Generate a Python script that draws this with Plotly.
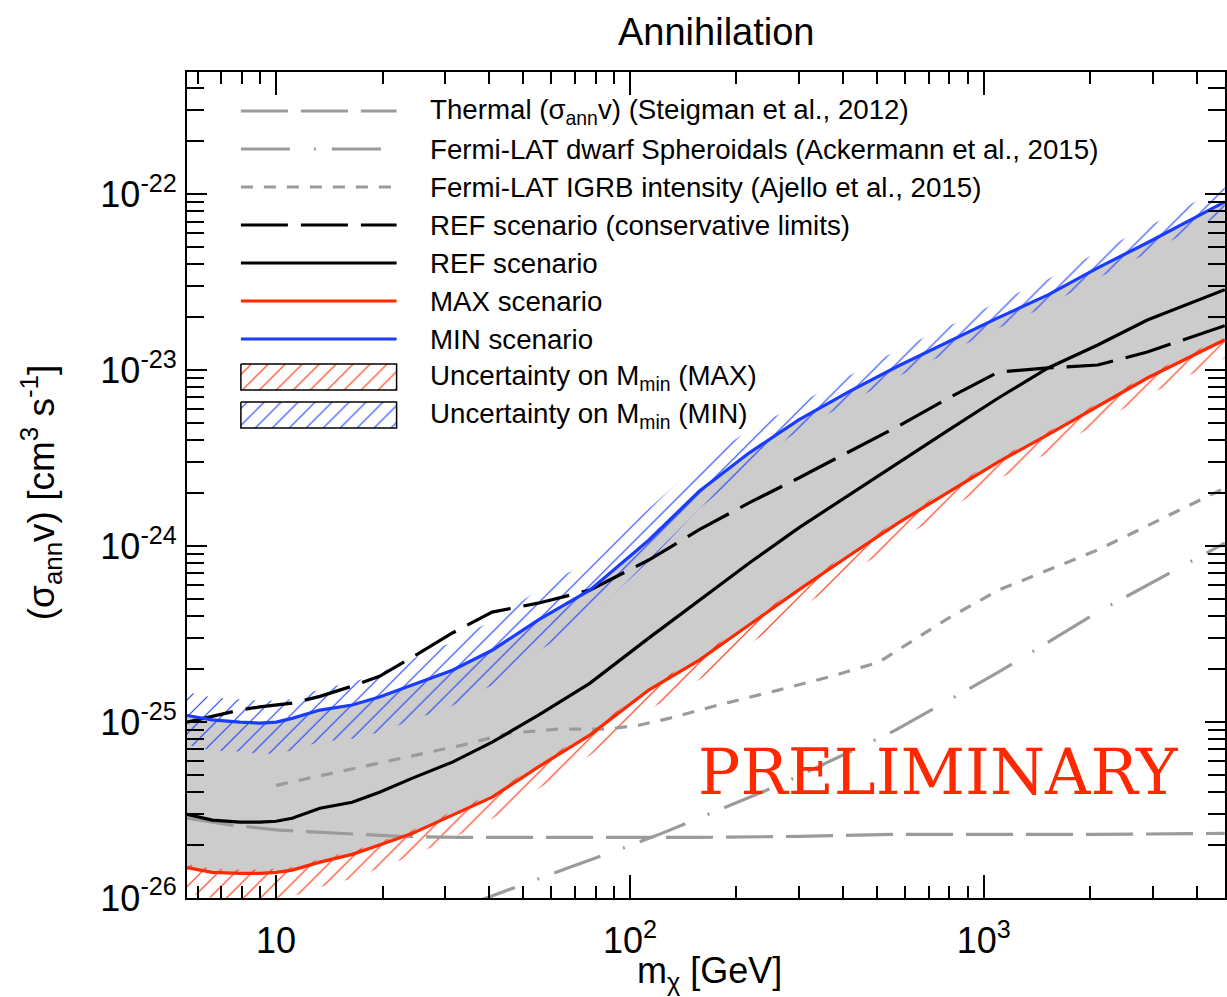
import numpy as np
import plotly.graph_objects as go

# ---------------------------------------------------------------- data
# Dark-matter mass grid [GeV] for the scenario curves
mass = [5.6, 6.6, 7.9, 9.0, 10, 11.1, 13.3, 16.4, 19.6, 24.3, 31.5, 40.8, 55,
        77, 113, 157, 217, 300, 415, 575, 795, 1100, 1520, 2100, 2900, 4800]

# MIN scenario limit and its M_min uncertainty band [cm^3 s^-1]
sv_min = [1.09e-25, 1.03e-25, 1.0e-25, 9.86e-26, 1.0e-25, 1.05e-25, 1.17e-25,
          1.25e-25, 1.39e-25, 1.62e-25, 1.97e-25, 2.56e-25, 3.80e-25, 5.62e-25,
          1.08e-24, 2.05e-24, 3.38e-24, 5.22e-24, 7.53e-24, 1.06e-23, 1.45e-23,
          1.99e-23, 2.68e-23, 3.82e-23, 5.30e-23, 9.06e-23]
sv_min_hi = [1.48e-25, 1.38e-25, 1.35e-25, 1.32e-25, 1.32e-25, 1.35e-25, 1.54e-25,
             1.68e-25, 1.91e-25, 2.29e-25, 2.85e-25, 3.79e-25, 5.62e-25, 8.32e-25,
             1.63e-24, 2.96e-24, 4.56e-24, 6.43e-24, 9.27e-24, 1.31e-23, 1.78e-23,
             2.45e-23, 3.30e-23, 4.70e-23, 6.52e-23, 1.11e-22]
sv_min_lo = [7.4e-26, 6.9e-26, 6.8e-26, 6.6e-26, 6.6e-26, 6.9e-26, 7.73e-26,
             8.05e-26, 8.75e-26, 1.02e-25, 1.24e-25, 1.62e-25, 2.51e-25, 3.98e-25,
             8.18e-25, 1.63e-24, 2.81e-24, 4.55e-24, 6.56e-24, 9.23e-24, 1.26e-23,
             1.73e-23, 2.34e-23, 3.33e-23, 4.62e-23, 7.89e-23]

# MAX scenario limit and its M_min uncertainty band
sv_max = [1.49e-26, 1.40e-26, 1.38e-26, 1.38e-26, 1.40e-26, 1.44e-26, 1.60e-26,
          1.77e-26, 2.00e-26, 2.33e-26, 2.96e-26, 3.74e-26, 5.55e-26, 8.43e-26,
          1.52e-25, 2.25e-25, 3.56e-25, 5.64e-25, 8.79e-25, 1.36e-24, 2.03e-24,
          3.01e-24, 4.30e-24, 6.27e-24, 9.03e-24, 1.49e-23]
sv_max_hi = [1.56e-26, 1.47e-26, 1.45e-26, 1.45e-26, 1.47e-26, 1.50e-26, 1.67e-26,
             1.85e-26, 2.09e-26, 2.44e-26, 3.10e-26, 3.92e-26, 5.81e-26, 8.83e-26,
             1.59e-25, 2.36e-25, 3.72e-25, 5.90e-25, 9.20e-25, 1.42e-24, 2.13e-24,
             3.15e-24, 4.50e-24, 6.56e-24, 9.46e-24, 1.56e-23]
sv_max_lo = [1.07e-26, 1.0e-26, 9.8e-27, 9.8e-27, 1.0e-26, 1.02e-26, 1.15e-26,
             1.29e-26, 1.48e-26, 1.74e-26, 2.19e-26, 2.82e-26, 4.17e-26, 6.46e-26,
             1.17e-25, 1.74e-25, 2.75e-25, 4.37e-25, 6.9e-25, 1.07e-24, 1.62e-24,
             2.40e-24, 3.39e-24, 5.0e-24, 7.2e-24, 1.17e-23]

# REF scenario: nominal and conservative limits
sv_ref = [2.99e-26, 2.77e-26, 2.70e-26, 2.70e-26, 2.73e-26, 2.84e-26, 3.24e-26,
          3.50e-26, 3.99e-26, 4.80e-26, 5.92e-26, 7.69e-26, 1.09e-25, 1.66e-25,
          3.0e-25, 4.93e-25, 8.0e-25, 1.27e-24, 1.95e-24, 3.0e-24, 4.57e-24,
          6.95e-24, 1.03e-23, 1.39e-23, 1.93e-23, 2.87e-23]
sv_ref_cons = [1.0e-25, 1.08e-25, 1.17e-25, 1.22e-25, 1.25e-25, 1.28e-25, 1.40e-25,
               1.60e-25, 1.82e-25, 2.34e-25, 3.21e-25, 4.22e-25, 4.74e-25, 5.62e-25,
               8.34e-25, 1.24e-24, 1.76e-24, 2.44e-24, 3.43e-24, 4.82e-24, 6.95e-24,
               9.77e-24, 1.03e-23, 1.07e-23, 1.27e-23, 1.79e-23]

# Thermal relic cross section (Steigman et al. 2012)
thermal_mass = [5.6, 7.55, 10.2, 15.1, 22.3, 33.0, 82, 157, 300, 574, 1100, 2100, 4800]
thermal_sv = [2.84e-26, 2.59e-26, 2.43e-26, 2.33e-26, 2.24e-26, 2.21e-26, 2.21e-26,
              2.21e-26, 2.24e-26, 2.30e-26, 2.30e-26, 2.30e-26, 2.33e-26]

# Fermi-LAT dwarf spheroidal limits (Ackermann et al. 2015)
dsph_mass = [35, 39.3, 67.3, 95, 123, 178, 263, 472, 563, 1100, 2100, 4800]
dsph_sv = [9.3e-27, 1.0e-26, 1.49e-26, 1.91e-26, 2.33e-26, 3.15e-26, 4.37e-26,
           7.59e-26, 8.99e-26, 1.92e-25, 4.22e-25, 1.04e-24]

# Fermi-LAT IGRB intensity limits (Ajello et al. 2015)
igrb_mass = [10, 13.5, 18.4, 24.9, 33.6, 45.6, 63.1, 85.7, 106, 129, 178, 263,
             364, 505, 795, 1100, 2100, 4800]
igrb_sv = [4.37e-26, 4.99e-26, 5.69e-26, 6.49e-26, 7.40e-26, 8.65e-26, 9.12e-26,
           9.12e-26, 9.59e-26, 1.05e-25, 1.25e-25, 1.52e-25, 1.80e-25, 2.19e-25,
           3.90e-25, 5.62e-25, 9.51e-25, 2.14e-24]

# axis ticks
x_major = [10, 100, 1000]
x_major_text = ["10", "10<sup>2</sup>", "10<sup>3</sup>"]
y_major = [1e-26, 1e-25, 1e-24, 1e-23, 1e-22]
y_major_text = ["10<sup>-26</sup>", "10<sup>-25</sup>", "10<sup>-24</sup>",
                "10<sup>-23</sup>", "10<sup>-22</sup>"]

# legend entries
legend_labels = [
    "Thermal (σ<sub>ann</sub>v) (Steigman et al., 2012)",
    "Fermi-LAT dwarf Spheroidals (Ackermann et al., 2015)",
    "Fermi-LAT IGRB intensity (Ajello et al., 2015)",
    "REF scenario (conservative limits)",
    "REF scenario",
    "MAX scenario",
    "MIN scenario",
    "Uncertainty on M<sub>min</sub> (MAX)",
    "Uncertainty on M<sub>min</sub> (MIN)",
]

# ---------------------------------------------------------------- style
FONT = "Liberation Sans, Arial, Helvetica, sans-serif"
RED = "rgb(255,40,0)"
BLUE = "rgb(25,60,255)"
GREY = "rgb(155,155,155)"
BAND = "rgb(204,204,204)"
LW = 3.2
LONG_DASH = "47px,13px"
DASH_DOT = "49px,24px,2px,16px"
SHORT_DASH = "12px,11px"

W, H = 1227, 997
ML, MR, MT, MB = 187, 0, 72, 99
X_LO, X_HI = np.log10(5.6), np.log10(5.6) + (W - ML - MR) / 354.5
Y_LO, Y_HI = -26.0, -21.305


def hatch(color):
    return dict(shape="/", fgcolor=color, fgopacity=1, bgcolor="rgba(0,0,0,0)",
                size=12, solidity=0.09, fillmode="overlay")


def band(x, lo, hi):
    return list(x) + list(x)[::-1], list(hi) + list(lo)[::-1]


fig = go.Figure()

# grey region spanned by the MIN and MAX scenarios
bx, by = band(mass, sv_max, sv_min)
fig.add_trace(go.Scatter(x=bx, y=by, fill="toself", fillcolor=BAND,
                         line=dict(width=0), mode="lines", hoverinfo="skip"))

# hatched M_min uncertainty bands
for lo, hi, col in [(sv_min_lo, sv_min_hi, BLUE), (sv_max_lo, sv_max_hi, RED)]:
    bx, by = band(mass, lo, hi)
    fig.add_trace(go.Scatter(x=bx, y=by, fill="toself", fillcolor="rgba(0,0,0,0)",
                             fillpattern=hatch(col), line=dict(width=0),
                             mode="lines", hoverinfo="skip"))

curves = [
    (thermal_mass, thermal_sv, GREY, LONG_DASH),
    (dsph_mass, dsph_sv, GREY, DASH_DOT),
    (igrb_mass, igrb_sv, GREY, SHORT_DASH),
    (mass, sv_ref_cons, "black", LONG_DASH),
    (mass, sv_ref, "black", "solid"),
    (mass, sv_max, RED, "solid"),
    (mass, sv_min, BLUE, "solid"),
]
for x, y, col, dash in curves:
    fig.add_trace(go.Scatter(x=x, y=y, mode="lines",
                             line=dict(color=col, width=LW, dash=dash)))

# ---------------------------------------------------------------- legend
# drawn on a pixel-unit overlay of the plot area
LEG_X0, LEG_X1, LEG_TX = 241, 397, 428
LEG_Y0, LEG_DY = 111, 38.0
line_styles = [(c[2], c[3]) for c in curves]
for i, label in enumerate(legend_labels):
    yc = LEG_Y0 + i * LEG_DY
    if i < len(line_styles):
        col, dash = line_styles[i]
        fig.add_trace(go.Scatter(x=[LEG_X0, LEG_X1], y=[yc, yc], mode="lines",
                                 xaxis="x2", yaxis="y2",
                                 line=dict(color=col, width=LW, dash=dash)))
    else:
        col = RED if "MAX" in label else BLUE
        y0, y1 = yc - 13, yc + 13
        fig.add_trace(go.Scatter(x=[LEG_X0, LEG_X1, LEG_X1, LEG_X0, LEG_X0],
                                 y=[y0, y0, y1, y1, y0], mode="lines",
                                 xaxis="x2", yaxis="y2", fill="toself",
                                 fillcolor="rgba(0,0,0,0)", fillpattern=hatch(col),
                                 line=dict(color="black", width=1.5)))
    fig.add_annotation(x=LEG_TX, y=yc, xref="x2", yref="y2", text=label,
                       showarrow=False, xanchor="left", yanchor="middle",
                       font=dict(family=FONT, size=27.7, color="black"))


def px_x(px):
    return (px - ML) / (W - ML - MR)


def px_y(py):
    return (H - MB - py) / (H - MT - MB)


def label(px, py, text, size, family=FONT, color="black", angle=0):
    fig.add_annotation(x=px_x(px), y=px_y(py), xref="paper", yref="paper",
                       text=text, showarrow=False, textangle=angle,
                       xanchor="center", yanchor="middle",
                       font=dict(family=family, size=size, color=color))


label(940, 772, "PRELIMINARY", 63, family="DejaVu Serif, serif", color=RED)
label(717, 32, "Annihilation", 38)
label(711, 973, "m<sub>χ</sub> [GeV]", 36)
label(40, 492, "(σ<sub>ann</sub>v) [cm<sup>3</sup> s<sup>-1</sup>]", 37, angle=-90)

# ---------------------------------------------------------------- axes
x_minor = [k * 10 ** e for e in range(0, 4) for k in range(2, 10)]
y_minor = [k * 10.0 ** e for e in range(-26, -21) for k in range(2, 10)]
axis_common = dict(type="log", showgrid=False, zeroline=False, showline=True,
                   linecolor="black", linewidth=2, mirror="ticks", ticks="inside",
                   tickcolor="black", tickwidth=1.5, tickmode="array",
                   tickfont=dict(family=FONT, size=36, color="black"))
fig.update_layout(
    width=W, height=H, margin=dict(l=ML, r=MR, t=MT, b=MB),
    paper_bgcolor="white", plot_bgcolor="white", showlegend=False,
    xaxis=dict(axis_common, range=[X_LO, X_HI], tickvals=x_major,
               ticktext=x_major_text, ticklen=23, ticklabelstandoff=10,
               minor=dict(tickvals=x_minor, ticks="inside", ticklen=12,
                          tickwidth=1.5, tickcolor="black", showgrid=False)),
    yaxis=dict(axis_common, range=[Y_LO, Y_HI], tickvals=y_major,
               ticktext=y_major_text, ticklen=20, ticklabelstandoff=1,
               minor=dict(tickvals=y_minor, ticks="inside", ticklen=17,
                          tickwidth=1.5, tickcolor="black", showgrid=False)),
    xaxis2=dict(overlaying="x", range=[ML, W - MR], visible=False),
    yaxis2=dict(overlaying="y", range=[H - MB, MT], visible=False),
)

fig.write_html("out.html")
